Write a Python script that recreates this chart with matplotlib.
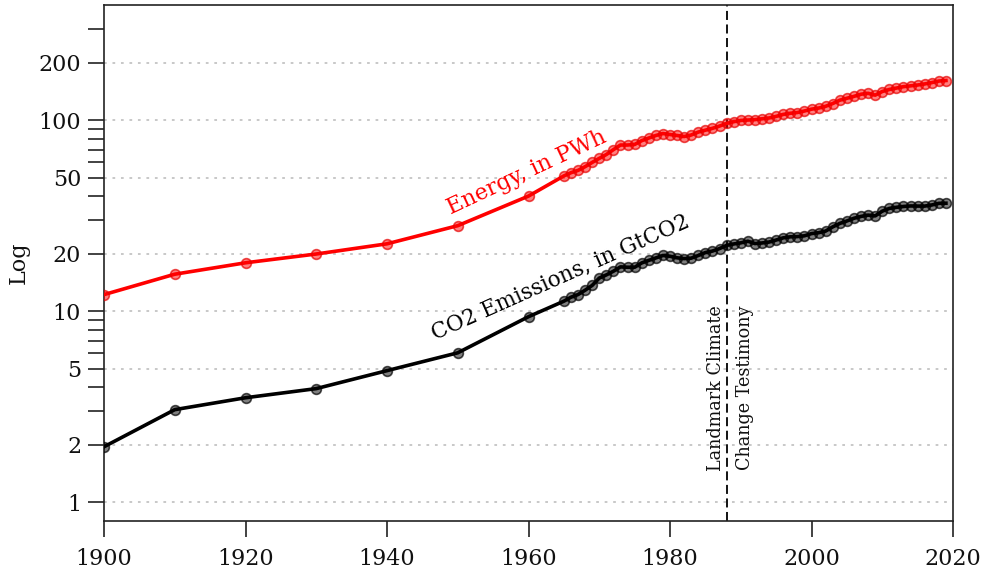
import matplotlib
matplotlib.use("Agg")
import matplotlib.pyplot as plt
from matplotlib.ticker import FixedLocator, FixedFormatter, NullFormatter

# ---------------- data ----------------
years_decadal = [1900, 1910, 1920, 1930, 1940, 1950, 1960]
years_annual = list(range(1965, 2020))
years = years_decadal + years_annual

energy_decadal = [12.2, 15.6, 17.9, 19.9, 22.5, 28.0, 40.0]
energy_annual = [
    51.0, 53.0, 54.5, 57.0, 60.0, 63.0, 66.0, 70.0, 74.0, 74.0,
    74.5, 78.0, 80.5, 83.0, 85.0, 84.0, 83.0, 82.0, 83.5, 86.5,
    88.5, 90.5, 93.0, 96.0, 98.0, 99.5, 100.0, 100.5, 101.5, 102.5,
    104.5, 107.0, 108.5, 109.5, 111.5, 114.0, 115.5, 118.0, 122.0, 127.0,
    130.0, 133.0, 136.5, 138.0, 135.0, 141.0, 144.5, 147.0, 149.5, 151.0,
    152.5, 154.5, 157.0, 160.0, 161.0,
]
energy = energy_decadal + energy_annual

co2_decadal = [1.95, 3.05, 3.52, 3.93, 4.88, 6.05, 9.35]
co2_annual = [
    11.27, 11.82, 12.21, 12.86, 13.63, 14.89, 15.47, 16.17, 17.04, 16.97,
    16.96, 17.87, 18.43, 18.98, 19.55, 19.37, 19.01, 18.83, 18.93, 19.55,
    20.25, 20.62, 21.24, 22.07, 22.46, 22.76, 23.22, 22.57, 22.73, 22.98,
    23.55, 24.18, 24.48, 24.55, 24.78, 25.45, 25.72, 26.24, 27.59, 28.76,
    29.63, 30.61, 31.31, 31.80, 31.49, 33.34, 34.47, 34.94, 35.29, 35.51,
    35.46, 35.45, 35.93, 36.65, 36.70,
]
co2 = co2_decadal + co2_annual

ytick_major = [1, 2, 5, 10, 20, 50, 100, 200]
ytick_labels = ["1", "2", "5", "10", "20", "50", "100", "200"]
ytick_minor = [3, 4, 6, 7, 8, 9, 30, 40, 60, 70, 80, 90, 300]
xticks = [1900, 1920, 1940, 1960, 1980, 2000, 2020]
event_year = 1988

# ---------------- figure ----------------
plt.rcParams['font.family'] = ['DejaVu Serif']
W, H = 988, 569
fig = plt.figure(figsize=(W / 100, H / 100), dpi=100)
ax = fig.add_axes([104 / W, (H - 520.7) / H, (953 - 104) / W, (520.7 - 5) / H])

ax.set_yscale('log')
ax.set_xlim(1900, 2020)
ax.set_ylim(0.8, 400)

ax.plot(years, energy, color='red', lw=2.6, marker='o', ms=7,
        mfc=(1, 0, 0, 0.5), mec=(0.9, 0, 0, 0.7), mew=1.2, zorder=3)
ax.plot(years, co2, color='black', lw=2.6, marker='o', ms=7,
        mfc=(0, 0, 0, 0.5), mec=(0, 0, 0, 0.7), mew=1.2, zorder=3)

ax.axvline(event_year, color='black', lw=1.3, ls=(0, (5, 2.5)), zorder=2)

ax.yaxis.set_major_locator(FixedLocator(ytick_major))
ax.yaxis.set_major_formatter(FixedFormatter(ytick_labels))
ax.yaxis.set_minor_locator(FixedLocator(ytick_minor))
ax.yaxis.set_minor_formatter(NullFormatter())
ax.set_xticks(xticks)
ax.set_xticklabels([str(x) for x in xticks])

ax.grid(axis='y', which='major', ls=(0, (1.5, 3.2)), color='#c4c4c4', lw=1.3, zorder=1)
ax.grid(axis='x', visible=False)

ax.tick_params(axis='both', which='both', direction='out', length=11.5,
               width=1.2, color='#222222', labelsize=16, labelcolor='#111111')
ax.tick_params(axis='y', pad=5)
ax.tick_params(axis='x', pad=8)
for sp in ax.spines.values():
    sp.set_linewidth(1.2)
    sp.set_color('#222222')

ax.set_ylabel('Log', fontsize=16, color='#111111')
ax.yaxis.set_label_coords(-0.088, 0.5)

ax.text(1959.8, 53, 'Energy, in PWh', color='red', fontsize=16,
        rotation=25, ha='center', va='center')
ax.text(1964.5, 15.0, 'CO2 Emissions, in GtCO2', color='black', fontsize=15.5,
        rotation=24, ha='center', va='center')
ax.text(event_year + 0.5, 1.46, 'Landmark Climate\nChange Testimony',
        fontsize=12.7, rotation=90, ha='center', va='bottom',
        linespacing=1.8, color='#111111')

fig.savefig('out.png', dpi=100)
